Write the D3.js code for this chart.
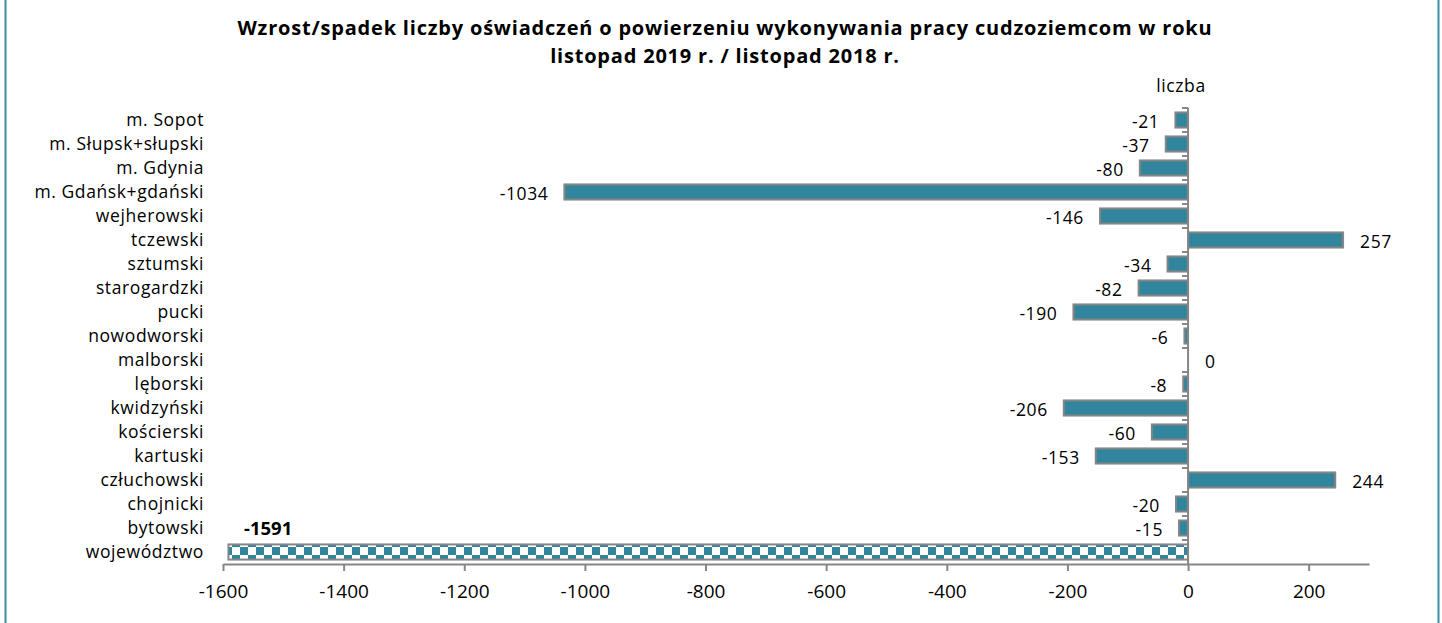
<!DOCTYPE html>
<html>
<head>
<meta charset="utf-8">
<script src="https://cdn.jsdelivr.net/npm/d3@7"></script>
<style>
  body { margin: 0; background: #fff; }
  svg { display: block; font-family: "Open Sans", "Noto Sans", sans-serif; }
</style>
</head>
<body>
<div id="chart"></div>
<script>
// dane z wykresu (od gory do dolu)
var categories = ["m. Sopot", "m. Słupsk+słupski", "m. Gdynia", "m. Gdańsk+gdański", "wejherowski",
  "tczewski", "sztumski", "starogardzki", "pucki", "nowodworski", "malborski", "lęborski",
  "kwidzyński", "kościerski", "kartuski", "człuchowski", "chojnicki", "bytowski", "województwo"];
var values = [-21, -37, -80, -1034, -146, 257, -34, -82, -190, -6, 0, -8, -206, -60, -153, 244, -20, -15, -1591];
var xTicks = [-1600, -1400, -1200, -1000, -800, -600, -400, -200, 0, 200];
var titleLines = ["Wzrost/spadek liczby oświadczeń o powierzeniu wykonywania pracy cudzoziemcom w roku",
  "listopad 2019 r. / listopad 2018 r."];

var W = 1442, H = 623;
var teal = "#31859c", grey = "#868686";
var fs = 17.5, ls = 0.6;

var svg = d3.select("#chart").append("svg").attr("width", W).attr("height", H);

var defs = svg.append("defs");
var pat = defs.append("pattern").attr("id", "checker")
  .attr("patternUnits", "userSpaceOnUse").attr("width", 16).attr("height", 16)
  .attr("x", 0).attr("y", 547);
pat.append("rect").attr("width", 16).attr("height", 16).attr("fill", "#fff");
pat.append("rect").attr("width", 8).attr("height", 8).attr("fill", teal);
pat.append("rect").attr("x", 8).attr("y", 8).attr("width", 8).attr("height", 8).attr("fill", teal);

// ramka
svg.append("line").attr("x1", 5.5).attr("x2", 5.5).attr("y1", 0).attr("y2", H)
  .attr("stroke", "#3b8ba5").attr("stroke-width", 2);
svg.append("line").attr("x1", 1438.5).attr("x2", 1438.5).attr("y1", 0).attr("y2", H)
  .attr("stroke", "#3b8ba5").attr("stroke-width", 2);

// tytul
svg.selectAll("text.title").data(titleLines).enter().append("text")
  .attr("class", "title")
  .attr("x", 725).attr("y", function(d, i){ return 35 + i * 28; })
  .attr("text-anchor", "middle").attr("font-weight", "bold").attr("font-size", 20)
  .attr("letter-spacing", 0.8)
  .attr("fill", "#000").text(function(d){ return d; });

svg.append("text").attr("x", 1181).attr("y", 92).attr("text-anchor", "middle")
  .attr("font-size", fs).attr("letter-spacing", ls).text("liczba");

var x = d3.scaleLinear().domain([-1600, 300]).range([223, 1369]);
var y = d3.scaleBand().domain(categories).range([108, 564]).paddingInner(0.37).paddingOuter(0.185);
var step = y.step();

// os X
var xAxis = svg.append("g").attr("transform", "translate(0,564)")
  .call(d3.axisBottom(x).tickValues(xTicks).tickFormat(function(d){ return String(d); })
    .tickSizeOuter(0).tickSizeInner(7).tickPadding(14));
xAxis.select(".domain").attr("stroke", grey).attr("stroke-width", 2);
xAxis.selectAll(".tick line").attr("stroke", grey).attr("stroke-width", 2);
xAxis.selectAll(".tick text").attr("font-size", 19).attr("fill", "#000")
  .attr("font-family", "'Open Sans', 'Noto Sans', sans-serif");

// slupki
svg.selectAll("rect.bar").data(values).enter().append("rect")
  .attr("class", "bar")
  .attr("x", function(d){ return x(Math.min(0, d)); })
  .attr("y", function(d, i){ return y(categories[i]); })
  .attr("width", function(d){ return Math.abs(x(d) - x(0)); })
  .attr("height", y.bandwidth())
  .attr("fill", function(d, i){ return categories[i] === "województwo" ? "url(#checker)" : teal; })
  .attr("stroke", grey).attr("stroke-width", function(d){ return d === 0 ? 0 : 2; });

// os Y
var yAxis = svg.append("g");
yAxis.append("line").attr("x1", x(0)).attr("x2", x(0)).attr("y1", 108).attr("y2", 564)
  .attr("stroke", grey).attr("stroke-width", 2);
yAxis.selectAll("line.tk").data(d3.range(categories.length)).enter().append("line")
  .attr("class", "tk")
  .attr("x1", x(0) - 6).attr("x2", x(0))
  .attr("y1", function(i){ return 108 + i * step; }).attr("y2", function(i){ return 108 + i * step; })
  .attr("stroke", grey).attr("stroke-width", 2);

// etykiety kategorii
svg.selectAll("text.cat").data(categories).enter().append("text")
  .attr("class", "cat")
  .attr("x", 204).attr("y", function(d){ return y(d) + y.bandwidth() / 2; })
  .attr("dy", "0.35em").attr("text-anchor", "end").attr("font-size", fs)
  .attr("letter-spacing", ls)
  .text(function(d){ return d; });

// etykiety wartosci
svg.selectAll("text.val").data(values).enter().append("text")
  .attr("class", "val")
  .filter(function(d, i){ return categories[i] !== "województwo"; })
  .attr("x", function(d){ return d < 0 ? x(d) - 16 : x(d) + 17; })
  .attr("y", function(d, i){ return y(categories[i]) + y.bandwidth() / 2 + 2; })
  .attr("dy", "0.35em")
  .attr("text-anchor", function(d){ return d < 0 ? "end" : "start"; })
  .attr("font-size", fs).attr("letter-spacing", ls).text(function(d){ return d; });

var last = values.length - 1;
svg.append("text").attr("x", 244).attr("y", y(categories[last]) - 16)
  .attr("dy", "0.35em").attr("font-weight", "bold").attr("font-size", fs + 1)
  .text(values[last]);
</script>
</body>
</html>
